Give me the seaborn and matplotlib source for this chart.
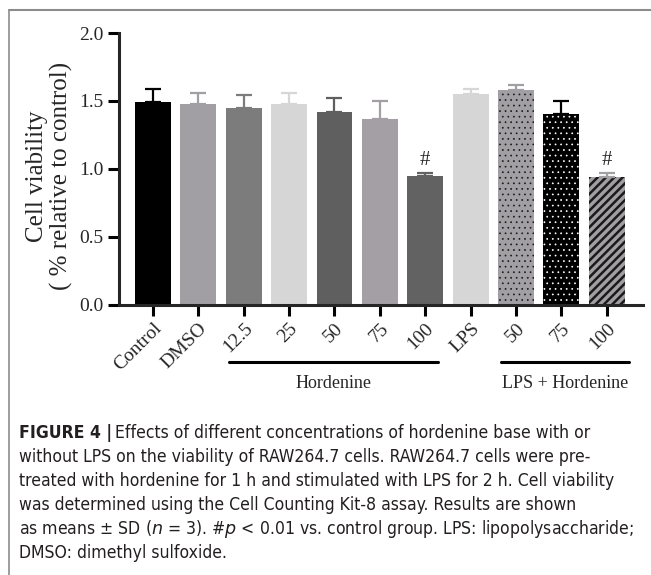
import seaborn as sns
import matplotlib.pyplot as plt
import pandas as pd
from matplotlib.lines import Line2D
from matplotlib import font_manager as fm
from matplotlib.font_manager import FontProperties

# data
groups = ["Control", "DMSO", "H12.5", "H25", "H50", "H75", "H100",
          "LPS", "LPS+H50", "LPS+H75", "LPS+H100"]
tick_labels = ["Control", "DMSO", "12.5", "25", "50", "75", "100",
               "LPS", "50", "75", "100"]
viability = [1.49, 1.48, 1.45, 1.48, 1.42, 1.37, 0.95,
             1.55, 1.58, 1.40, 0.94]
sd = [0.10, 0.08, 0.09, 0.08, 0.10, 0.13, 0.02,
      0.04, 0.04, 0.10, 0.03]
colors = ["#000000", "#a29fa4", "#7c7c7c", "#d6d6d6", "#5f5f5f", "#a39fa4",
          "#626262", "#d6d6d6", "#a29fa4", "#000000", "#a29fa4"]
hatches = [None] * 8 + ["...", "...", "////"]
hatch_colors = [None] * 8 + ["#1a1a1a", "#ffffff", "#1a1a1a"]
hatch_widths = [None] * 8 + [0.5, 0.5, 1.8]
significant = ["H100", "LPS+H100"]

caption_head = "FIGURE 4 |"
caption = [
    "Effects of different concentrations of hordenine base with or",
    "without LPS on the viability of RAW264.7 cells. RAW264.7 cells were pre-",
    "treated with hordenine for 1 h and stimulated with LPS for 2 h. Cell viability",
    "was determined using the Cell Counting Kit-8 assay. Results are shown",
    "as means \u00b1 SD ($n$ = 3). #$p$ < 0.01 vs. control group. LPS: lipopolysaccharide;",
    "DMSO: dimethyl sulfoxide.",
]


def caption_fonts():
    """Pick a condensed sans for the caption, falling back to Liberation Sans."""
    for name in ["DejaVu Sans", "Liberation Sans Narrow"]:
        fl = [f for f in fm.fontManager.ttflist
              if f.name == name and f.style == "normal"
              and (name != "DejaVu Sans" or "Condensed" in f.fname)]
        reg = [f for f in fl if f.weight in (400, "normal", "regular")]
        bold = [f for f in fl if f.weight in (700, "bold")]
        if reg and bold:
            return FontProperties(fname=reg[0].fname), FontProperties(fname=bold[0].fname)
    return (FontProperties(family="Liberation Sans"),
            FontProperties(family="Liberation Sans", weight="bold"))


df = pd.DataFrame({"group": groups, "viability": viability})

sns.set_style("ticks")
plt.rcParams["font.family"] = ["Liberation Serif", "DejaVu Serif"]
plt.rcParams["hatch.linewidth"] = 1.8

fig = plt.figure(figsize=(6.51, 5.75), dpi=100)
ax = fig.add_axes([119 / 651, 270.5 / 575, 524 / 651, 271.5 / 575])

sns.barplot(data=df, x="group", y="viability", hue="group", order=groups,
            hue_order=groups, palette=colors, width=0.79, errorbar=None,
            legend=False, saturation=1, ax=ax)

for cont, h, hc, hw in zip(ax.containers, hatches, hatch_colors, hatch_widths):
    for bar in cont:
        bar.set_linewidth(0)
        if h:
            bar.set_hatch(h)
            bar.set_edgecolor(hc)
            if hasattr(bar, "set_hatch_linewidth"):
                bar.set_hatch_linewidth(hw)

for i, (v, e, c) in enumerate(zip(viability, sd, colors)):
    ax.errorbar(i, v, yerr=[[0], [e]], fmt="none", ecolor=c, elinewidth=1.6,
                capsize=5.5, capthick=1.6)
    if groups[i] in significant:
        ax.text(i, v + e + 0.02, "#", ha="center", va="bottom", fontsize=15)

ax.set_xlim(-0.75, 10.8)
ax.set_ylim(0, 2.0)
ax.set_yticks([0.0, 0.5, 1.0, 1.5, 2.0])
ax.set_yticklabels(["0.0", "0.5", "1.0", "1.5", "2.0"], fontsize=14)
ax.set_xticks(range(len(groups)))
ax.set_xticklabels(tick_labels, rotation=45, ha="right",
                   rotation_mode="anchor", fontsize=14)
ax.set_xlabel("")
ax.set_ylabel("Cell viability\n( % relative to control)", fontsize=18,
              linespacing=1.1)
ax.yaxis.set_label_coords(-0.088, 0.473)
ax.tick_params(length=8, width=2.2, color="black", pad=3)
for s in ["left", "bottom"]:
    ax.spines[s].set_linewidth(2.2)
sns.despine(ax=ax)

# group brackets under the tick labels
tr = ax.get_xaxis_transform()
for x0, x1, name in [(1.67, 6.28, "Hordenine"), (7.66, 10.5, "LPS + Hordenine")]:
    ax.add_line(Line2D([x0, x1], [-0.212, -0.212], transform=tr, color="black",
                       lw=2.2, clip_on=False))
    ax.text((x0 + x1) / 2, -0.29, name, transform=tr, ha="center",
            va="center", fontsize=13)

# frame of the figure panel
fig.add_artist(Line2D([9 / 651, 1], [1 - 10 / 575, 1 - 10 / 575],
                      color="#8c8c8c", lw=1.5))
fig.add_artist(Line2D([9 / 651, 9 / 651], [0, 1 - 10 / 575],
                      color="#8c8c8c", lw=1.2))

# caption, sized so the long lines span the same width as the original
fp_reg, fp_bold = caption_fonts()
x_left = 19 / 651
y0 = 1 - 433 / 575
step = 24 / 575
size = 12
head = fig.text(x_left, y0, caption_head, fontproperties=fp_bold,
                va="center", color="#231f20")
lines = []
for k, line in enumerate(caption):
    lines.append(fig.text(x_left, y0 - k * step, line, fontproperties=fp_reg,
                          va="center", color="#231f20"))
for t in [head] + lines:
    t.set_fontsize(size)
fig.canvas.draw()
r = fig.canvas.get_renderer()
w3 = lines[2].get_window_extent(r).width
w5 = lines[4].get_window_extent(r).width
size = size * min(607 / w3, 614 / w5)
for t in [head] + lines:
    t.set_fontsize(size)
fig.canvas.draw()
bb = head.get_window_extent(r).transformed(fig.transFigure.inverted())
lines[0].set_x(bb.x1 + 3 / 651)

fig.savefig("out.png", dpi=100)
plt.close(fig)
